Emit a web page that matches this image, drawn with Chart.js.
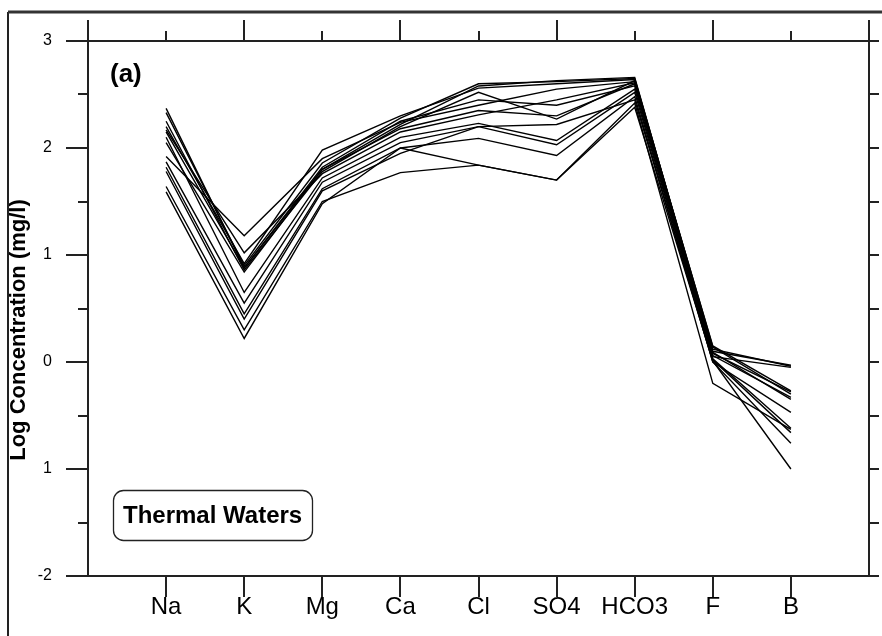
<!DOCTYPE html>
<html>
<head>
<meta charset="utf-8">
<script src="https://cdn.jsdelivr.net/npm/chart.js@4/dist/chart.umd.min.js"></script>
<style>
  html, body { margin: 0; padding: 0; background: #fff; }
  #wrap { width: 882px; height: 636px; }
</style>
</head>
<body>
<div id="wrap"><canvas id="chart" width="882" height="636"></canvas></div>
<script>
// ions along the x axis
const ions = ["Na", "K", "Mg", "Ca", "Cl", "SO4", "HCO3", "F", "B"];
// y tick labels as printed (minus sign of -1 is missing in the figure)
const yTickLabels = { "-2": "-2", "-1": "1", "0": "0", "1": "1", "2": "2", "3": "3" };

// log concentration (mg/l), one array per thermal water sample
const w1  = [2.37, 0.88, 1.80, 2.22, 2.58, 2.63, 2.66, 0.10, -0.03];
const w2  = [2.33, 0.90, 1.86, 2.28, 2.60, 2.62, 2.65, 0.12, -0.04];
const w3  = [2.25, 0.86, 1.78, 2.20, 2.52, 2.27, 2.63, 0.08, -0.28];
const w4  = [2.20, 0.92, 1.98, 2.30, 2.56, 2.60, 2.64, 0.14, -0.30];
const w5  = [2.17, 1.02, 1.76, 2.15, 2.31, 2.45, 2.61, 0.06, -0.33];
const w6  = [2.10, 0.65, 1.72, 2.10, 2.23, 2.07, 2.55, 0.03, -0.62];
const w7  = [1.92, 1.18, 1.90, 2.24, 2.40, 2.55, 2.62, 0.15, -0.27];
const w8  = [1.87, 0.55, 1.68, 2.05, 2.20, 2.03, 2.52, 0.02, -0.66];
const w9  = [1.82, 0.45, 1.62, 2.00, 2.09, 1.93, 2.48, 0.00, -0.47];
const w10 = [1.64, 0.30, 1.50, 1.77, 1.84, 1.70, 2.42, -0.20, -0.63];
const w11 = [1.59, 0.22, 1.48, 2.00, 1.84, 1.70, 2.38, 0.01, -1.00];
const w12 = [2.05, 0.84, 1.80, 2.18, 2.35, 2.30, 2.60, 0.09, -0.35];
const w13 = [1.78, 0.40, 1.60, 1.95, 2.20, 2.22, 2.45, 0.00, -0.76];
const w14 = [2.15, 0.88, 1.82, 2.25, 2.45, 2.40, 2.58, 0.05, -0.05];

const samples = [w1, w2, w3, w4, w5, w6, w7, w8, w9, w10, w11, w12, w13, w14];

const datasets = samples.map((s, i) => ({
  label: "Sample " + (i + 1),
  data: s.map((v, j) => ({ x: j + 1, y: v })),
  borderColor: "#000",
  borderWidth: 1.4,
  pointRadius: 0,
  tension: 0,
  fill: false
}));

// frame, outside ticks and annotations
const framePlugin = {
  id: "frame",
  afterDraw(chart) {
    const { ctx, chartArea: a, scales: { x, y } } = chart;
    ctx.save();

    // outer border of the figure
    ctx.strokeStyle = "#222";
    ctx.lineWidth = 2;
    ctx.beginPath();
    ctx.moveTo(8, 636);
    ctx.lineTo(8, 12);
    ctx.stroke();
    ctx.strokeStyle = "#333";
    ctx.lineWidth = 3;
    ctx.beginPath();
    ctx.moveTo(8, 12);
    ctx.lineTo(882, 12);
    ctx.stroke();

    ctx.strokeStyle = "#222";
    ctx.lineWidth = 2;
    ctx.beginPath();
    ctx.moveTo(a.left, a.top);
    ctx.lineTo(a.right, a.top);
    ctx.lineTo(a.right, a.bottom);
    ctx.stroke();

    ctx.beginPath();
    for (let i = 0; i <= 10; i++) {
      const px = Math.round(x.getPixelForValue(i));
      ctx.moveTo(px, a.top);
      ctx.lineTo(px, a.top - (i % 2 === 0 ? 21 : 10));
    }
    for (let i = 1; i <= 9; i++) {
      const px = Math.round(x.getPixelForValue(i));
      ctx.moveTo(px, a.bottom);
      ctx.lineTo(px, a.bottom + 21);
    }
    for (let v = -2; v <= 3; v += 0.5) {
      const py = Math.round(y.getPixelForValue(v));
      const len = Number.isInteger(v) ? 22 : 10;
      ctx.moveTo(a.left, py);
      ctx.lineTo(a.left - len, py);
      ctx.moveTo(a.right, py);
      ctx.lineTo(a.right + 10, py);
    }
    ctx.stroke();

    // y axis title
    ctx.fillStyle = "#000";
    ctx.save();
    ctx.translate(19, 330);
    ctx.rotate(-Math.PI / 2);
    ctx.font = "bold 22px 'Liberation Sans', Arial, sans-serif";
    ctx.textAlign = "center";
    ctx.textBaseline = "middle";
    ctx.fillText("Log Concentration (mg/l)", 0, 0);
    ctx.restore();

    // panel letter
    ctx.font = "bold 26px 'Liberation Sans', Arial, sans-serif";
    ctx.textAlign = "left";
    ctx.textBaseline = "alphabetic";
    ctx.fillText("(a)", 110, 82);

    // label box
    ctx.lineWidth = 1.3;
    ctx.strokeStyle = "#222";
    ctx.beginPath();
    ctx.roundRect(113.5, 490.5, 199, 50, 10);
    ctx.stroke();
    ctx.font = "bold 24px 'Liberation Sans', Arial, sans-serif";
    ctx.textBaseline = "middle";
    ctx.fillText("Thermal Waters", 123, 516);
    ctx.restore();
  }
};

new Chart(document.getElementById("chart"), {
  type: "line",
  data: { datasets },
  options: {
    responsive: false,
    devicePixelRatio: 1,
    animation: false,
    layout: { autoPadding: false, padding: { left: 0, top: 41, right: 13, bottom: 0 } },
    plugins: { legend: { display: false }, tooltip: { enabled: false } },
    scales: {
      x: {
        type: "linear",
        min: 0,
        max: 10,
        afterFit: s => { s.height = 60; },
        ticks: {
          stepSize: 1,
          autoSkip: false,
          maxRotation: 0,
          padding: 0,
          color: "#000",
          font: { family: "'Liberation Sans', Arial, sans-serif", size: 24 },
          callback: v => ions[v - 1] || ""
        },
        grid: { display: true, drawOnChartArea: false, drawTicks: true, tickLength: 17, tickColor: "rgba(0,0,0,0)" },
        border: { display: true, color: "#222", width: 2 }
      },
      y: {
        type: "linear",
        min: -2,
        max: 3,
        afterFit: s => { s.width = 88; },
        ticks: {
          stepSize: 1,
          padding: 2,
          color: "#000",
          font: { family: "'Liberation Sans', Arial, sans-serif", size: 16 },
          callback: v => yTickLabels[String(v)] ?? ""
        },
        grid: { display: true, drawOnChartArea: false, drawTicks: true, tickLength: 34, tickColor: "rgba(0,0,0,0)" },
        border: { display: true, color: "#222", width: 2 }
      }
    }
  },
  plugins: [framePlugin]
});
</script>
</body>
</html>
